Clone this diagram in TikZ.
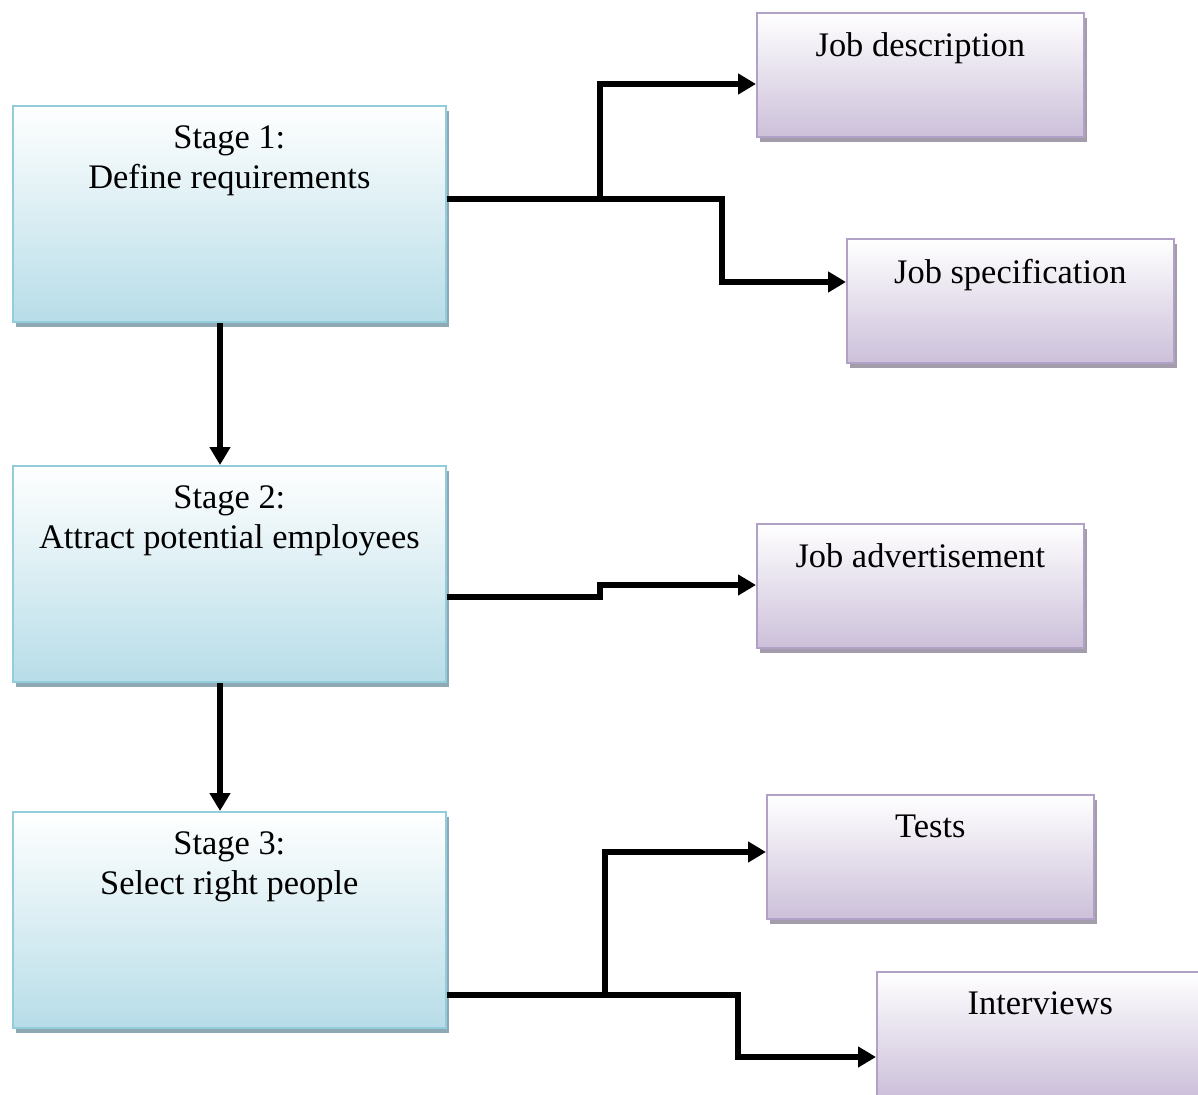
\documentclass[tikz,border=0pt]{standalone}
\usepackage{fontspec}
\setmainfont{Liberation Serif}
\usetikzlibrary{arrows.meta,shadows}
\definecolor{azulborde}{HTML}{92CDDC}
\definecolor{azulfondo}{HTML}{B7DDE8}
\definecolor{azulsombra}{HTML}{8EA9B3}
\definecolor{lilaborde}{HTML}{B2A1C7}
\definecolor{lilafondo}{HTML}{CCC0DA}
\definecolor{lilasombra}{HTML}{A39DAB}
\begin{document}
\begin{tikzpicture}[x=0.02cm, y=-0.02cm,
  etapa/.style={rectangle, anchor=north west, draw=azulborde, line width=0.035cm,
    top color=white, bottom color=azulfondo, minimum width=8.66cm, minimum height=4.32cm,
    drop shadow={shadow xshift=0.06cm, shadow yshift=-0.11cm, fill=azulsombra, opacity=1}},
  tarea/.style={rectangle, anchor=north west, draw=lilaborde, line width=0.035cm,
    top color=white, bottom color=lilafondo, minimum width=6.54cm, minimum height=2.48cm,
    drop shadow={shadow xshift=0.06cm, shadow yshift=-0.11cm, fill=lilasombra, opacity=1}},
  texto/.style={anchor=north, inner sep=0pt, yshift=-0.41cm, align=center,
    font=\fontsize{19.6}{22.7}\selectfont},
  linea/.style={line width=0.11cm},
  flecha/.style={line width=0.11cm, -{Triangle[length=0.36cm, width=0.4cm]}}]
  \useasboundingbox (0,0) rectangle (1198,1095);
  % las tres etapas, a la izquierda
  \node[etapa] (s1) at (12,105) {};
  \node[etapa] (s2) at (12,465) {};
  \node[etapa] (s3) at (12,811) {};
  \node[texto] (s1t) at (s1.north) {Stage 1:\\Define requirements};
  \node[texto] (s2t) at (s2.north) {Stage 2:\\Attract potential employees};
  \node[texto] (s3t) at (s3.north) {Stage 3:\\Select right people};
  % las cajas de la derecha
  \node[tarea] (jd) at (756,12) {};
  \node[tarea] (js) at (846,238) {};
  \node[tarea] (ja) at (756,523) {};
  \node[tarea] (ts) at (766,794) {};
  \node[tarea] (iv) at (876,971) {};
  \node[texto] (jdt) at (jd.north) {Job description};
  \node[texto] (jst) at (js.north) {Job specification};
  \node[texto] (jat) at (ja.north) {Job advertisement};
  \node[texto] (tst) at (ts.north) {Tests};
  \node[texto] (ivt) at (iv.north) {Interviews};
  % de una etapa a la siguiente
  \draw[flecha] (s1.south -| 220,0) -- (s2.north -| 220,0);
  \draw[flecha] (s2.south -| 220,0) -- (s3.north -| 220,0);
  % las ramas de la etapa 1
  \coordinate (b1) at (600,199);
  \draw[flecha] (s1.east |- b1) -| (600,84) -- (jd.west |- 0,84);
  \draw[flecha] (b1) -| (722,282) -- (js.west |- 0,282);
  % la rama de la etapa 2
  \draw[flecha] (s2.east |- 0,597) -| (600,585) -- (ja.west |- 0,585);
  % las ramas de la etapa 3
  \coordinate (b3) at (605,995);
  \draw[flecha] (s3.east |- b3) -| (605,852) -- (ts.west |- 0,852);
  \draw[flecha] (b3) -| (738,1057) -- (iv.west |- 0,1057);
\end{tikzpicture}
\end{document}
